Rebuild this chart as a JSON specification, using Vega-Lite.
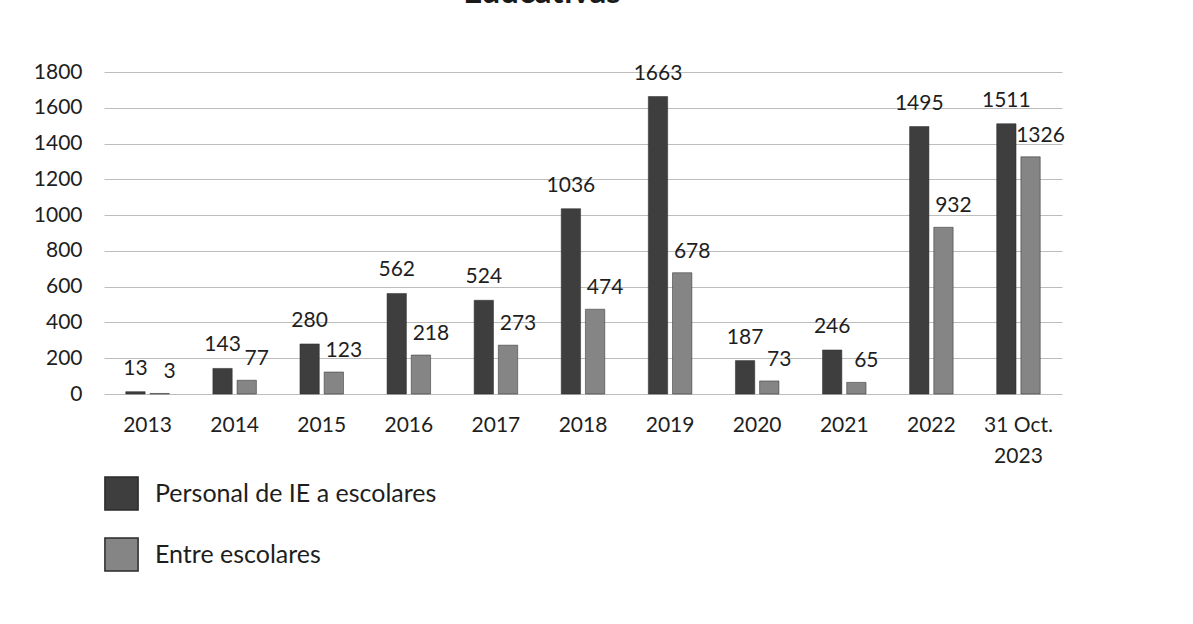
{
  "$schema": "https://vega.github.io/schema/vega-lite/v6.json",
  "autosize": {"type": "none"},
  "width": 958,
  "height": 322,
  "padding": {"left": 104, "top": 72, "right": 131, "bottom": 230},
  "background": "white",
  "title": {"text": "Educativas", "fontSize": 33, "fontWeight": "bold", "font": "Lato", "color": "#1a1a1a", "anchor": "middle", "dx": -41, "offset": 25, "baseline": "alphabetic"},
  "config": {"view": {"stroke": null}, "font": "Lato", "text": {"font": "Lato"}},
  "data": {"values": [
    {"year": "2013", "series": "Personal de IE a escolares", "value": 13},
    {"year": "2014", "series": "Personal de IE a escolares", "value": 143},
    {"year": "2015", "series": "Personal de IE a escolares", "value": 280},
    {"year": "2016", "series": "Personal de IE a escolares", "value": 562},
    {"year": "2017", "series": "Personal de IE a escolares", "value": 524},
    {"year": "2018", "series": "Personal de IE a escolares", "value": 1036},
    {"year": "2019", "series": "Personal de IE a escolares", "value": 1663},
    {"year": "2020", "series": "Personal de IE a escolares", "value": 187},
    {"year": "2021", "series": "Personal de IE a escolares", "value": 246},
    {"year": "2022", "series": "Personal de IE a escolares", "value": 1495},
    {"year": "31 Oct.|2023", "series": "Personal de IE a escolares", "value": 1511},
    {"year": "2013", "series": "Entre escolares", "value": 3},
    {"year": "2014", "series": "Entre escolares", "value": 77},
    {"year": "2015", "series": "Entre escolares", "value": 123},
    {"year": "2016", "series": "Entre escolares", "value": 218},
    {"year": "2017", "series": "Entre escolares", "value": 273},
    {"year": "2018", "series": "Entre escolares", "value": 474},
    {"year": "2019", "series": "Entre escolares", "value": 678},
    {"year": "2020", "series": "Entre escolares", "value": 73},
    {"year": "2021", "series": "Entre escolares", "value": 65},
    {"year": "2022", "series": "Entre escolares", "value": 932},
    {"year": "31 Oct.|2023", "series": "Entre escolares", "value": 1326}
  ]},
  "encoding": {
    "x": {"field": "year", "type": "nominal", "sort": null,
      "scale": {"paddingInner": 0.5, "paddingOuter": 0.25},
      "axis": {"title": null, "labelAngle": 0, "domain": false, "ticks": false, "labelFontSize": 21, "labelPadding": 20, "labelColor": "#1e1e1e", "labelExpr": "split(datum.label, '|')", "labelLineHeight": 31, "labelFont": "Lato"}},
    "xOffset": {"field": "series", "type": "nominal", "sort": ["Personal de IE a escolares", "Entre escolares"], "scale": {"paddingInner": 0.2}},
    "y": {"field": "value", "type": "quantitative",
      "scale": {"domain": [0, 1800], "nice": false},
      "axis": {"title": null, "format": "d", "values": [0, 200, 400, 600, 800, 1000, 1200, 1400, 1600, 1800], "grid": true, "gridColor": "#bdbdbd", "gridWidth": 1, "domain": false, "ticks": false, "labelPadding": 22, "labelFontSize": 21, "labelColor": "#1e1e1e", "labelFont": "Lato"}}
  },
  "layer": [
    {"mark": {"type": "bar", "stroke": "#2a2a2a", "strokeWidth": 0.5},
     "encoding": {"color": {"field": "series", "type": "nominal",
       "scale": {"domain": ["Personal de IE a escolares", "Entre escolares"], "range": ["#3e3e3e", "#858585"]},
       "legend": {"title": null, "orient": "none", "legendX": 0, "legendY": 404, "direction": "vertical", "symbolType": "square", "symbolSize": 1100, "symbolStrokeColor": "#2a2a2a", "symbolStrokeWidth": 1.5, "labelFontSize": 25, "labelLimit": 0, "labelOffset": 16, "rowPadding": 20, "labelColor": "#1e1e1e", "labelFont": "Lato"}}}},
    {"transform": [{"filter": "datum.series === 'Personal de IE a escolares'"}],
     "mark": {"type": "text", "baseline": "alphabetic", "dy": -17, "fontSize": 21, "color": "#1e1e1e"},
     "encoding": {"text": {"field": "value", "type": "quantitative"}}},
    {"transform": [{"filter": "datum.series === 'Entre escolares'"}],
     "mark": {"type": "text", "baseline": "alphabetic", "dy": -15, "dx": 10, "fontSize": 21, "color": "#1e1e1e"},
     "encoding": {"text": {"field": "value", "type": "quantitative"}}}
  ]
}
